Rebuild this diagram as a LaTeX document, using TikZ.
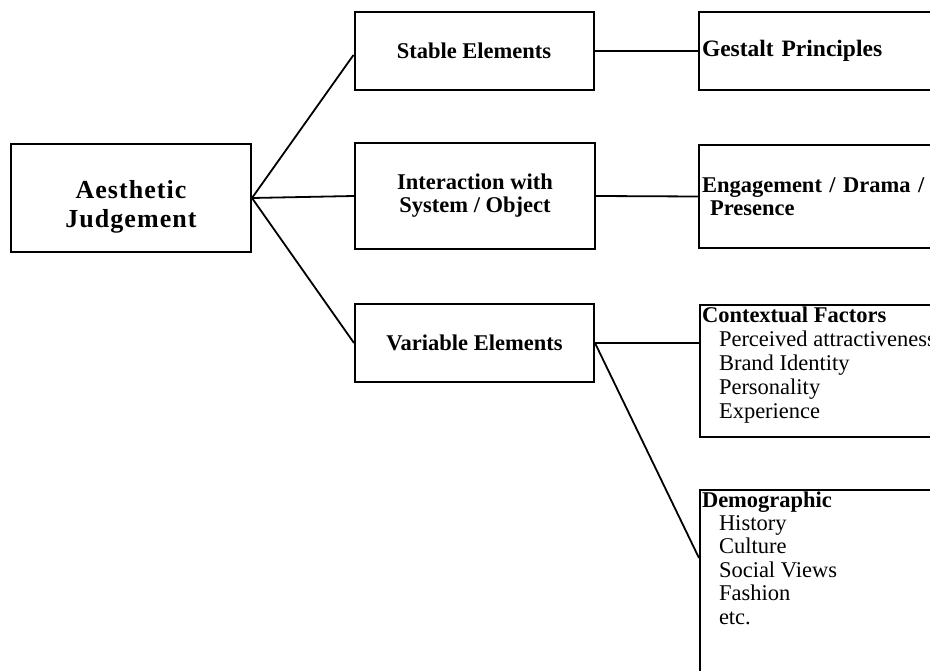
\documentclass[tikz,border=0pt]{standalone}
\usepackage{fontspec}
\setmainfont{Liberation Serif}
\usepackage{tikz}
\usetikzlibrary{positioning}
\usetikzlibrary{calc}
\tikzstyle{cbox}=[draw=black, line width=2pt, align=center, inner sep=0pt,
    minimum width=239pt, font=\bfseries\fontsize{22.5}{23}\selectfont]
\tikzstyle{rbox}=[draw=black, line width=2pt, anchor=west, align=left, inner sep=2pt,
    minimum width=262pt, text width=256pt, font=\bfseries\fontsize{22.5}{23}\selectfont]
\tikzstyle{lbox}=[draw=black, line width=2pt, anchor=north west, inner sep=1.5pt,
    minimum width=262pt, font=\fontsize{22.5}{24}\selectfont]
\tikzstyle{link}=[line width=1.8pt]
\newcommand{\listentry}[1]{\hspace*{17pt}#1\par}

\begin{document}
\begin{tikzpicture}[x=1pt, y=-1pt]
          \useasboundingbox (0,0) rectangle (930,671);
          \node[cbox, minimum width=240pt, minimum height=108pt,
                font=\bfseries\fontsize{26}{29}\selectfont\addfontfeature{LetterSpace=4}] (judge) at (131,198){\rule{0pt}{36pt}Aesthetic\\Judgement};
          \node[cbox, minimum height=78pt] (stable) at (474,51){Stable Elements};
          \node[cbox, minimum width=240pt, minimum height=106pt] (interact) at (475,196){Interaction with\\System / Object};
          \node[cbox, minimum height=78pt] (variable) at (474.5,343){Variable Elements};
          \node[rbox, minimum height=78pt, font=\bfseries\fontsize{23.5}{23}\selectfont] (gestalt) at (698,51){Gestalt Principles};
          \node[rbox, minimum height=103pt] (engage) at (698,196.5){Engagement / Drama /\\\hspace*{8pt}Presence};
          \node[lbox] (context) at (699,304){\parbox[t][129pt][t]{258pt}{%
              \textbf{Contextual Factors}\par
              \listentry{Perceived attractiveness}
              \listentry{Brand Identity}
              \listentry{Personality}
              \listentry{Experience}}};
          \node[lbox] (demog) at (699,489){\parbox[t][220pt][t]{258pt}{\baselineskip=23.4pt
              \textbf{Demographic}\par
              \listentry{History}
              \listentry{Culture}
              \listentry{Social Views}
              \listentry{Fashion}
              \listentry{etc.}}};
          \draw[link](judge.east) -- ([yshift=-4pt]stable.west);
          \draw[link](judge.east) -- (interact.west);
          \draw[link](judge.east) -- (variable.west);
          \draw[link](stable.east) -- (gestalt.west);
          \draw[link](interact.east) -- (engage.west);
          \draw[link](variable.east) -- (variable.east -| context.west);
          \draw[link](variable.east) -- ([yshift=-69pt]demog.north west);
        \end{tikzpicture}
\end{document}
